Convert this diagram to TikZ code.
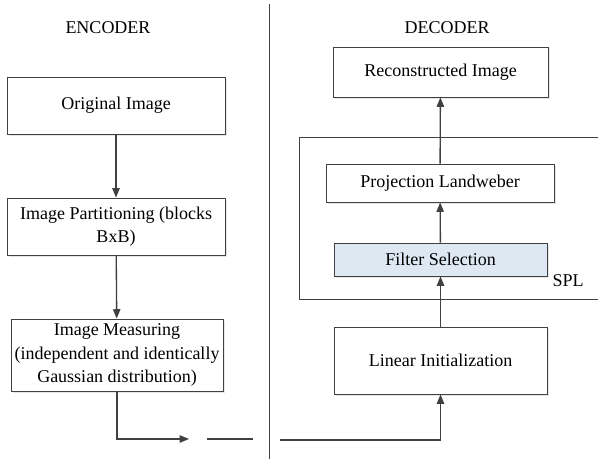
\documentclass[tikz,border=0pt]{standalone}
\usepackage{fontspec}
\setmainfont{Liberation Serif}
\usepackage{xcolor}
\usepackage{tikz}
\usetikzlibrary{arrows.meta, positioning, calc, shadows}
\definecolor{lineColor}{RGB}{64, 64, 64}
\definecolor{filterBlue}{RGB}{222, 232, 242}
\newcommand{\px}{0.75pt}

\begin{document}
\begin{tikzpicture}[
        x=0.75pt, y=-0.75pt,
        font=\fontsize{13.5}{17}\selectfont,
        block/.style={rectangle, draw=lineColor, fill=white, line width=0.65pt, align=center, inner sep=1pt,
            drop shadow={shadow xshift=1.2pt, shadow yshift=-1.2pt, fill=black!12, opacity=0.8}},
        filterbox/.style={block, fill=filterBlue},
        line/.style={draw=lineColor, line width=1pt},
        frame/.style={draw=lineColor, line width=0.6pt},
        arrowline/.style={line, -{Triangle[length=7pt, width=5.5pt]}}
    ]
    \useasboundingbox (0,0) rectangle (598,459);

    % Headings and divider
    \node (encoder) at (108,28) {ENCODER};
    \node (decoder) at (447,28) {DECODER};
    \draw [frame] (269,4) -- (269,459);

    % Encoder nodes
    \node (orig) [block, minimum width=218*\px, minimum height=57*\px] at (116,105.5) {Original Image};
    \node (part) [block, minimum width=218*\px, minimum height=57*\px] at (116,226.5) {Image Partitioning (blocks\\BxB)};
    \node (meas) [block, minimum width=212*\px, minimum height=72*\px, font=\fontsize{13.5}{17.5}\selectfont] at (117,355) {Image Measuring\\(independent and identically\\Gaussian distribution)};

    % SPL frame
    \draw [frame] (598,137) -- (299,137) -- (299,299) -- (598,299);
    \node (spl) at (568,281) {SPL};

    % Decoder nodes
    \node (recon) [block, minimum width=215*\px, minimum height=50*\px] at (440.5,72) {Reconstructed Image};
    \node (proj) [block, minimum width=228*\px, minimum height=38*\px] at (440,183) {Projection Landweber};
    \node (filt) [filterbox, minimum width=213*\px, minimum height=33*\px] at (440.5,259.5) {Filter Selection};
    \node (lininit) [block, minimum width=213*\px, minimum height=67*\px] at (440.5,360.5) {Linear Initialization};

    % Channel coordinates
    \coordinate (turn) at (meas.south |- 0,439);
    \coordinate (sendEnd) at (189,439);
    \coordinate (gapA) at (207,439);
    \coordinate (gapB) at (253,439);
    \coordinate (recvStart) at (280,440);
    \coordinate (recvTurn) at (lininit.south |- 0,440);

    % Connectors
    \path [arrowline] (orig) -- (part);
    \path [arrowline] (part) -- (meas);
    \path [arrowline] (meas.south) -- (turn) -- (sendEnd);
    \path [line] (gapA) -- (gapB);
    \path [arrowline] (recvStart) -- (recvTurn) -- (lininit.south);
    \path [arrowline] (lininit) -- (filt);
    \path [arrowline] (filt) -- (proj);
    \path [arrowline] (proj) -- (recon);
\end{tikzpicture}
\end{document}
